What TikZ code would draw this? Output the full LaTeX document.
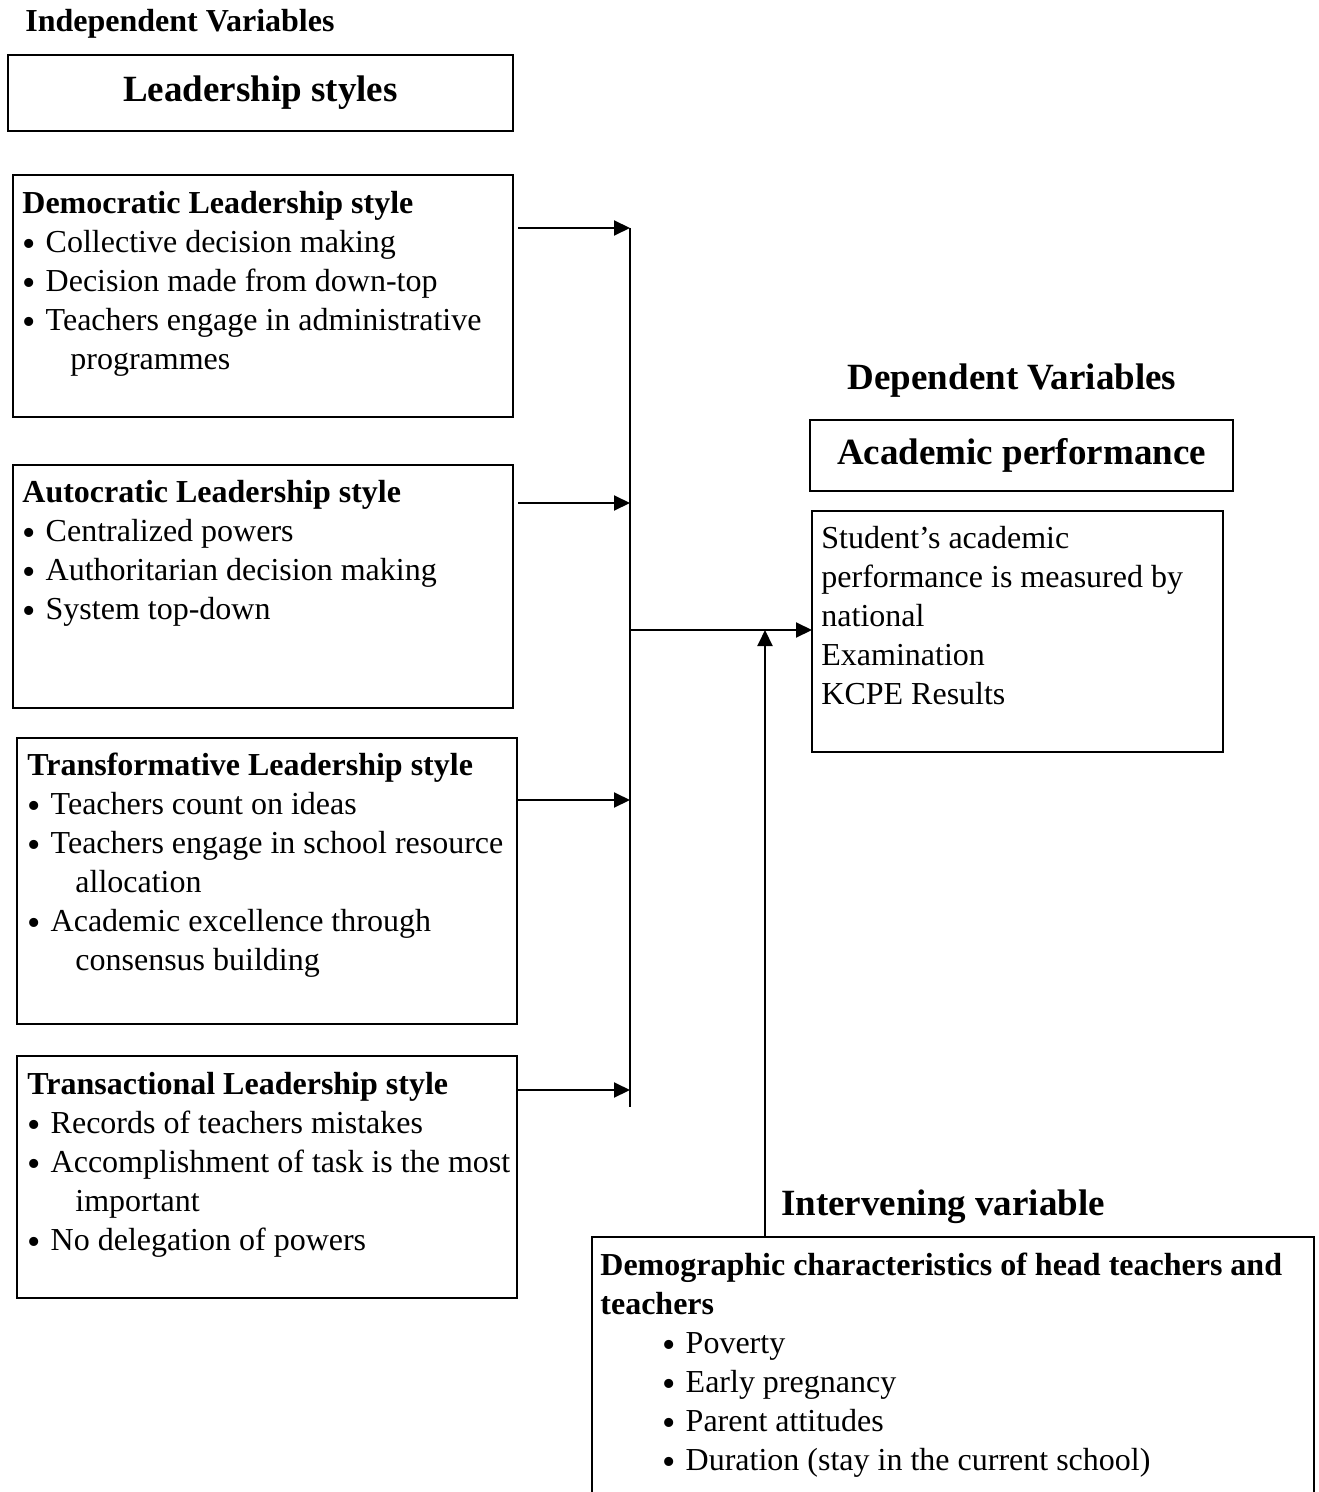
\documentclass[tikz,border=0pt]{standalone}
\usepackage{fontspec}
\setmainfont{Liberation Serif}
\usetikzlibrary{arrows.meta,positioning,calc}

\newcommand{\itm}{\raisebox{-1.8pt}{\fontsize{19}{19.5}\selectfont\textbullet}\hspace{5pt}}

\begin{document}
\begin{tikzpicture}[
  x=0.5pt, y=-0.5pt,
  panel/.style={
    draw,
    line width=0.75pt,
    anchor=north west,
    inner sep=0pt,
    outer sep=0pt
  },
  itemtext/.style={
    anchor=north west,
    inner sep=0pt,
    align=left,
    font=\fontsize{16}{19.5}\selectfont
  },
  headtext/.style={
    inner sep=0pt,
    font=\fontsize{18.5}{22}\selectfont\bfseries
  },
  arrow/.style={-{Triangle[length=8pt,width=7.5pt]}, line width=1pt}
]
\useasboundingbox (0,0) rectangle (1318,1492);

% independent side
\node[anchor=west, inner sep=0pt, font=\fontsize{16}{19.5}\selectfont\bfseries]
  (indep) at (25,24) {Independent Variables};
\node[panel, headtext, anchor=north west, minimum width=252.5pt,
  minimum height=38pt] (lstyles) at (8,55) {Leadership styles};

\node[panel, minimum width=250pt, minimum height=121pt] (dem) at (13,175) {};
\node[itemtext] (demtext) at ($(dem.north west)+(9,16)$)
  {\textbf{Democratic Leadership style}\\
   \itm Collective decision making\\
   \itm Decision made from down-top\\
   \itm Teachers engage in administrative\\
   \hspace*{24pt}programmes};

\node[panel, minimum width=250pt, minimum height=121.5pt] (aut) at (13,465) {};
\node[itemtext] (auttext) at ($(aut.north west)+(9,15)$)
  {\textbf{Autocratic Leadership style}\\
   \itm Centralized powers\\
   \itm Authoritarian decision making\\
   \itm System top-down};

\node[panel, minimum width=250pt, minimum height=143pt] (trf) at (17,738) {};
\node[itemtext] (trftext) at ($(trf.north west)+(10,15)$)
  {\textbf{Transformative Leadership style}\\
   \itm Teachers count on ideas\\
   \itm Teachers engage in school resource\\
   \hspace*{24pt}allocation\\
   \itm Academic excellence through\\
   \hspace*{24pt}consensus building};

\node[panel, minimum width=250pt, minimum height=121pt] (trs) at (17,1056) {};
\node[itemtext] (trstext) at ($(trs.north west)+(10,16)$)
  {\textbf{Transactional Leadership style}\\
   \itm Records of teachers mistakes\\
   \itm Accomplishment of task is the most\\
   \hspace*{24pt}important\\
   \itm No delegation of powers};

% collecting line
\coordinate (trunktop) at (630,228);
\coordinate (trunkbot) at (630,1107);
\coordinate (junction) at (630,630);
\draw[line width=1pt] (trunktop) -- (trunkbot);

\draw[arrow] ($(dem.north east)+(5,53)$) -- (trunktop);
\draw[arrow] ($(aut.north east)+(5,38)$) coordinate (a1) -- (a1 -| trunktop);
\draw[arrow] ($(trf.north east)+(1,62)$) coordinate (t1) -- (t1 -| trunktop);
\draw[arrow] ($(trs.north east)+(1,34)$) coordinate (t2) -- (t2 -| trunktop);

% dependent side
\node[headtext] (dep) at (1012,381) {Dependent Variables};
\node[panel, headtext, line width=1pt, minimum width=211.5pt,
  minimum height=35.5pt] (acad) at (810,420) {Academic performance};

\node[panel, minimum width=205.5pt, minimum height=120.5pt] (stu) at (812,511) {};
\node[itemtext] (stutext) at ($(stu.north west)+(9,15)$)
  {Student's academic\\
   performance is measured by\\
   national\\
   Examination\\
   KCPE Results};

\draw[arrow] (junction) -- (junction -| stu.west);

% intervening side
\node[headtext] (interv) at (943,1207) {Intervening variable};
\node[panel, minimum width=361pt, minimum height=150pt] (demo) at (592,1237) {};
\node[itemtext] (demotext) at ($(demo.north west)+(8,16)$)
  {\textbf{Demographic characteristics of head teachers and}\\
   \textbf{teachers}\\
   \hspace*{31pt}\itm Poverty\\
   \hspace*{31pt}\itm Early pregnancy\\
   \hspace*{31pt}\itm Parent attitudes\\
   \hspace*{31pt}\itm Duration (stay in the current school)};

\draw[arrow] ($(demo.north west)+(173,0)$) coordinate (i1) -- (i1 |- junction);

\end{tikzpicture}
\end{document}
